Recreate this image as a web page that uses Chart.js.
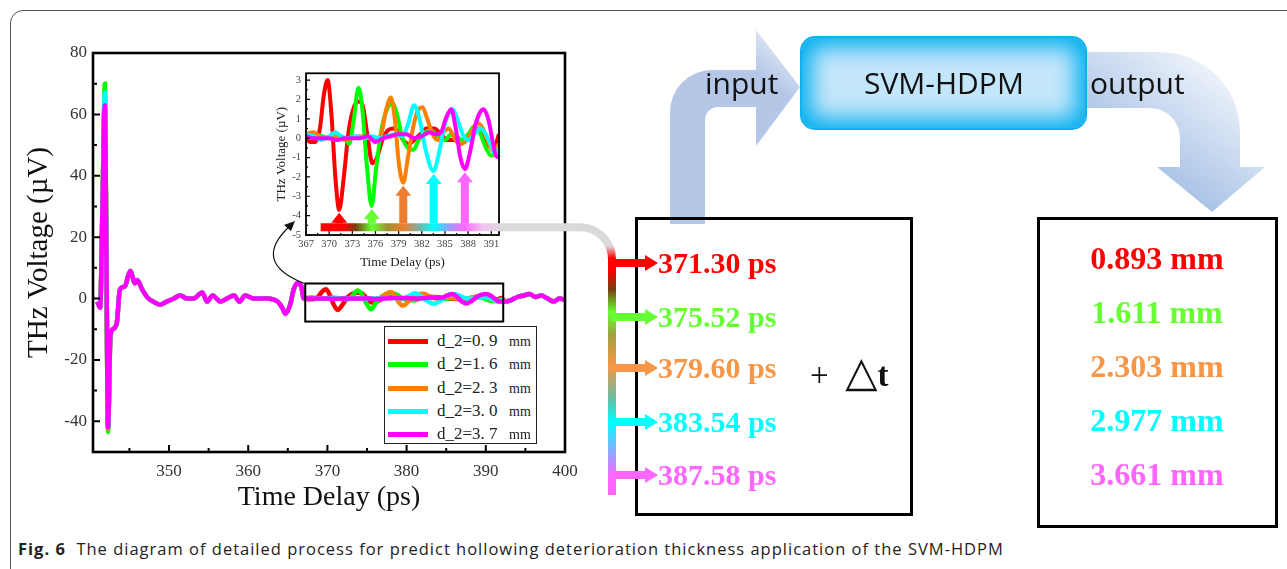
<!DOCTYPE html>
<html>
<head>
<meta charset="utf-8">
<script src="https://cdn.jsdelivr.net/npm/chart.js@4.4.3/dist/chart.umd.min.js"></script>
<style>
  html, body { margin: 0; padding: 0; background: #fff; }
  #page { position: relative; width: 1287px; height: 569px; overflow: hidden; }
  .abs { position: absolute; }
  #frame { left: 10px; top: 10px; width: 1320px; height: 620px; border: 1.3px solid #555; border-radius: 13px; box-sizing: border-box; }
  #mainCv { left: 0; top: 0; }
  #insetCv { left: 262px; top: 62px; background: #fff; }
  #deco { left: 0; top: 0; z-index: 3; pointer-events: none; }
  #legend { left: 384px; top: 326px; width: 153px; height: 118px; border: 1.5px solid #222; background: #fff; box-sizing: border-box; z-index: 2; }
  .lrow { position: absolute; left: 0; height: 20px; width: 150px; }
  .lsw { position: absolute; left: 3px; top: 8px; width: 40px; height: 5px; }
  .ltx { position: absolute; left: 52px; top: 0; font: 17px "Liberation Serif", serif; line-height: 20px; color: #222; white-space: pre; }
  .ltx small { font-size: 14px; padding-left: 3px; }
  #svm { left: 800px; top: 36px; width: 287px; height: 94px; border-radius: 15px; background: #c4e6fa;
         box-shadow: inset 0 0 22px 9px #00aeef; border: 2px solid #10b0ef; box-sizing: border-box; z-index: 4; }
  .dtxt { position: absolute; font-family: "Open Sans", sans-serif; font-size: 30px; line-height: 30px; color: #111; z-index: 5; white-space: nowrap; }
  .val { position: absolute; font: bold 30px "Liberation Serif", serif; line-height: 30px; z-index: 5; white-space: nowrap; }
  #dt { left: 810px; top: 347px; font: 33px "Liberation Serif", serif; line-height: 40px; color: #111; z-index: 5; white-space: nowrap; }
  #dt .tri { font: 42px "DejaVu Sans", sans-serif; }
  #dt b { font-weight: bold; }
  #caption { left: 18px; top: 537px; font: 16.5px "Open Sans", sans-serif; letter-spacing: 1px; color: #222; white-space: nowrap; }
</style>
</head>
<body>
<div id="page">
  <div id="frame" class="abs"></div>
  <canvas id="mainCv" class="abs" width="600" height="520"></canvas>
  <canvas id="insetCv" class="abs" width="245" height="212"></canvas>
  <div id="legend" class="abs"></div>
  <div id="svm" class="abs"></div>
  <div class="dtxt" style="left:864px;top:68px;">SVM-HDPM</div>
  <div class="dtxt" style="left:705px;top:68px;">input</div>
  <div class="dtxt" style="left:1090px;top:68px;">output</div>
  <div id="dt" class="abs">+&nbsp;&nbsp;<span class="tri">△</span><b>t</b></div>
  <canvas id="deco" class="abs" width="1287" height="569"></canvas>
  <div id="caption" class="abs"><b>Fig. 6</b>&nbsp; The diagram of detailed process for predict hollowing deterioration thickness application of the SVM-HDPM</div>
</div>
<script>
// ---- data ----
const seriesLabels = ['d_2=0. 9', 'd_2=1. 6', 'd_2=2. 3', 'd_2=3. 0', 'd_2=3. 7'];
const seriesColors = ['#ff0000', '#00ff00', '#ff8000', '#00ffff', '#ff00ff'];

// main trace before the zoomed window (shared shape, spike differs per series)
const preTime = [340.95, 341.3, 341.6, 341.9, 342.1, 342.3, 342.6, 342.9, 343.4, 343.8, 344.45, 344.8, 345.1, 345.7, 346.0, 346.6, 347.4, 348.0, 348.9, 349.7, 350.6, 351.4, 352.3, 353.1, 354.2, 354.8, 355.5, 356.5, 357.3, 358.2, 358.9, 359.6, 360.7, 361.5, 362.4, 363.7, 364.3, 364.7, 365.3, 365.75, 366.2, 366.7];
const preVolt = [-1, -3, 30, 65, 10, -42, -12, -10, -8, 3, 4, 7, 9, 5, 6, 3, 0, -1, -2, -1, 0, 1, 0, 0, 2, -1, 1, -1, 0, 1, -1, 1, 0, 0, 0, -1, -3, -5, -2, 3, 5, 4];
const spikePeak = [68, 70, 66, 67, 63];
const spikeTrough = [-42, -43.5, -42.5, -42, -42];

// main trace after the zoomed window
const postTime = [392.5, 393.2, 394.0, 394.8, 395.5, 396.3, 397.0, 397.8, 398.6, 399.3, 400];
const postVolt = [-1, -0.5, 0.5, 1, 1.5, 0.5, 1, 0, -1, 0, -0.5];

// zoomed window 367-392 ps
const redTime = [367.0, 367.5, 368.2, 368.8, 369.3, 369.8, 370.3, 370.8, 371.3, 371.9, 372.5, 373.2, 373.9, 374.4, 375.0, 375.6, 376.2, 376.9, 377.6, 378.3, 379.0, 379.6, 380.3, 381.0, 381.8, 382.6, 383.6, 384.5, 385.3, 386.2, 387.0, 387.8, 388.6, 389.3, 390.0, 390.7, 391.3, 392.0];
const redVolt = [0.0, -0.2, -0.2, 0.5, 2.2, 3.0, 1.2, -2.0, -3.7, -2.0, 0.3, 1.6, 1.9, 1.6, 0.0, -1.3, -1.0, -0.1, 0.4, 0.5, 0.3, -0.1, -0.3, -0.1, 0.2, 0.5, 0.5, 0.2, -0.1, -0.1, -0.3, 0.0, 0.4, 0.5, 0.0, -0.4, -0.5, 0.2];
const greenTime = [367.0, 368.0, 369.0, 370.0, 371.0, 372.0, 372.6, 373.2, 373.8, 374.3, 374.9, 375.5, 376.1, 376.8, 377.5, 378.2, 378.8, 379.5, 380.2, 380.9, 381.6, 382.4, 383.2, 384.0, 385.0, 385.8, 386.5, 387.2, 388.0, 388.8, 389.5, 390.3, 391.0, 391.6, 392.0];
const greenVolt = [0.1, 0.2, 0.1, 0.0, -0.1, 0.0, -0.3, 1.0, 2.6, 1.5, -1.5, -3.5, -1.5, 0.5, 1.5, 1.8, 1.2, 0.0, -0.5, -0.6, -0.1, 0.3, 0.4, 0.1, -0.1, 0.2, 0.1, -0.1, 0.2, 0.6, 0.3, -0.5, -0.9, -0.8, -0.4];
const orangeTime = [367.0, 368.0, 369.0, 370.0, 371.0, 372.0, 373.0, 374.0, 375.0, 376.0, 376.8, 377.4, 378.0, 378.5, 379.0, 379.6, 380.2, 380.9, 381.6, 382.1, 382.7, 383.4, 384.1, 384.8, 385.5, 386.2, 386.9, 387.6, 388.4, 389.2, 389.9, 390.6, 391.3, 392.0];
const orangeVolt = [0.2, 0.3, 0.0, 0.0, 0.1, -0.1, 0.0, 0.1, 0.0, -0.1, 0.3, 1.5, 2.1, 1.0, -1.2, -2.3, -1.0, 0.6, 1.5, 1.6, 1.0, 0.2, -0.1, 0.3, 0.5, 0.0, -0.3, -0.2, 0.3, 0.8, 0.5, -0.2, -0.7, -0.3];
const cyanTime = [367.0, 368.0, 369.0, 370.0, 370.8, 371.6, 372.5, 373.5, 374.5, 375.5, 376.5, 377.5, 378.5, 379.5, 380.2, 381.0, 381.7, 382.5, 383.5, 384.2, 384.9, 385.5, 386.0, 386.6, 387.3, 388.0, 388.8, 389.6, 390.3, 391.0, 391.6, 392.0];
const cyanVolt = [0.2, 0.1, -0.1, 0.1, 0.3, 0.1, 0.0, 0.1, 0.0, 0.1, 0.0, 0.1, 0.2, 0.1, 0.7, 1.7, 1.0, -0.6, -1.7, -0.8, 0.6, 1.3, 1.5, 1.0, 0.2, -0.1, 0.2, 0.5, 0.2, -0.4, -0.9, -0.5];
const magentaTime = [367.0, 368.0, 369.0, 370.0, 371.0, 372.0, 373.0, 374.0, 375.0, 376.0, 377.0, 378.0, 379.0, 380.0, 381.0, 382.0, 383.0, 383.8, 384.5, 385.1, 385.8, 386.4, 387.0, 387.6, 388.2, 388.9, 389.5, 390.0, 390.6, 391.2, 391.6, 392.0];
const magentaVolt = [0.1, 0.0, 0.0, 0.0, -0.1, 0.0, 0.0, 0.0, 0.1, -0.2, 0.0, 0.1, 0.2, 0.2, 0.0, 0.1, 0.3, 0.2, 0.3, 1.0, 1.5, 0.5, -1.0, -1.6, -0.8, 0.6, 1.3, 1.5, 1.0, -0.2, -0.9, -1.0];

const insetTimes = [redTime, greenTime, orangeTime, cyanTime, magentaTime];
const insetVolts = [redVolt, greenVolt, orangeVolt, cyanVolt, magentaVolt];

// detected trough times -> predicted thickness
const peakTimes = [371.30, 375.52, 379.60, 383.54, 387.58];
const troughVolts = [-3.7, -3.5, -2.3, -1.7, -1.6];
const thicknessMm = [0.893, 1.611, 2.303, 2.977, 3.661];
const markColors = ['#ff0000', '#66ff33', '#f79646', '#00ffff', '#ff66ff'];
const insetArrowColors = ['#ff0000', '#66ff33', '#ed7d31', '#00ffff', '#ff66ff'];

// tick labels
const mainXTicks = [350, 360, 370, 380, 390, 400];
const mainXMinor = [345, 355, 365, 375, 385, 395];
const mainYTicks = [-40, -20, 0, 20, 40, 60, 80];
const mainYMinor = [-50, -30, -10, 10, 30, 50, 70];
const insetXTicks = [367, 370, 373, 376, 379, 382, 385, 388, 391];
const insetXMinor = [368.5, 371.5, 374.5, 377.5, 380.5, 383.5, 386.5, 389.5];
const insetYTicks = [-5, -4, -3, -2, -1, 0, 1, 2, 3];
const insetYMinor = [-4.5, -3.5, -2.5, -1.5, -0.5, 0.5, 1.5, 2.5];

// ---- charts ----
Chart.defaults.font.family = '"Liberation Serif", serif';

function pts(ts, vs) { return ts.map((t, j) => ({ x: t, y: vs[j] })); }

const mainSets = [];
const insetSets = [];
for (let i = seriesLabels.length - 1; i >= 0; i--) {   // magenta drawn on top
  const pre = preVolt.map((v, j) => j === 3 ? spikePeak[i] : (j === 5 ? spikeTrough[i] : v));
  mainSets.push({
    label: seriesLabels[i],
    data: pts(preTime, pre).concat(pts(insetTimes[i], insetVolts[i]), pts(postTime, postVolt)),
    borderColor: seriesColors[i], borderWidth: 4.5, pointRadius: 0,
    cubicInterpolationMode: 'monotone'
  });
  insetSets.push({
    label: seriesLabels[i],
    data: pts(insetTimes[i], insetVolts[i]),
    borderColor: seriesColors[i], borderWidth: 4, pointRadius: 0,
    cubicInterpolationMode: 'monotone'
  });
}

function tickPlugin(id, o) {
  return {
    id,
    afterDatasetsDraw(chart) {
      const { ctx, chartArea: a, scales: { x, y } } = chart;
      ctx.save();
      ctx.strokeStyle = '#000';
      ctx.lineWidth = o.frame;
      ctx.strokeRect(a.left, a.top, a.right - a.left, a.bottom - a.top);
      ctx.lineWidth = o.tickW;
      ctx.beginPath();
      o.xMaj.forEach(v => { const p = x.getPixelForValue(v); ctx.moveTo(p, a.bottom); ctx.lineTo(p, a.bottom - o.maj); });
      o.xMin.forEach(v => { const p = x.getPixelForValue(v); ctx.moveTo(p, a.bottom); ctx.lineTo(p, a.bottom - o.min); });
      o.yMaj.forEach(v => { const p = y.getPixelForValue(v); ctx.moveTo(a.left, p); ctx.lineTo(a.left + o.maj, p); });
      o.yMin.forEach(v => { const p = y.getPixelForValue(v); ctx.moveTo(a.left, p); ctx.lineTo(a.left + o.min, p); });
      ctx.stroke();
      if (o.box) {
        const x0 = x.getPixelForValue(o.box[0]), x1 = x.getPixelForValue(o.box[1]);
        const y0 = y.getPixelForValue(o.box[2]), y1 = y.getPixelForValue(o.box[3]);
        ctx.lineWidth = 2;
        ctx.strokeRect(x0, y0, x1 - x0, y1 - y0);
      }
      ctx.restore();
    }
  };
}

const mainChart = new Chart(document.getElementById('mainCv'), {
  type: 'line',
  data: { datasets: mainSets },
  options: {
    responsive: false, animation: false,
    layout: { padding: { left: 0, top: 53, right: 35, bottom: 0 } },
    plugins: { legend: { display: false }, tooltip: { enabled: false } },
    scales: {
      x: {
        type: 'linear', min: 340.4, max: 400,
        afterBuildTicks: s => { s.ticks = mainXTicks.map(v => ({ value: v })); },
        afterFit: s => { s.height = 68; },
        grid: { display: false, drawTicks: false }, border: { display: false },
        ticks: { padding: 9, color: '#333', font: { size: 17 }, maxRotation: 0, autoSkip: false },
        title: { display: true, text: 'Time Delay (ps)', color: '#111', font: { size: 28 }, padding: { top: 6, bottom: 6 } }
      },
      y: {
        min: -50, max: 80,
        afterBuildTicks: s => { s.ticks = mainYTicks.map(v => ({ value: v })); },
        afterFit: s => { s.width = 93; },
        grid: { display: false, drawTicks: false }, border: { display: false },
        ticks: { padding: 6, color: '#333', font: { size: 17 }, autoSkip: false },
        title: { display: true, text: 'THz Voltage (µV)', color: '#111', font: { size: 29 }, padding: { top: 22, bottom: 22 } }
      }
    }
  },
  plugins: [tickPlugin('mainTicks', { frame: 2.6, tickW: 2, maj: 7, min: 4,
    xMaj: mainXTicks, xMin: mainXMinor, yMaj: mainYTicks, yMin: mainYMinor, box: [367.2, 392.2, 4.9, -7.5] })]
});

const insetChart = new Chart(document.getElementById('insetCv'), {
  type: 'line',
  data: { datasets: insetSets },
  options: {
    responsive: false, animation: false,
    layout: { padding: { left: 0, top: 10, right: 8, bottom: 0 } },
    plugins: { legend: { display: false }, tooltip: { enabled: false } },
    scales: {
      x: {
        type: 'linear', min: 367, max: 392,
        afterBuildTicks: s => { s.ticks = insetXTicks.map(v => ({ value: v })); },
        afterFit: s => { s.height = 39; },
        grid: { display: false, drawTicks: false }, border: { display: false },
        ticks: { padding: 3, color: '#444', font: { size: 10.5 }, maxRotation: 0, autoSkip: false },
        title: { display: true, text: 'Time Delay (ps)', color: '#222', font: { size: 13 }, padding: { top: 4, bottom: 4 } }
      },
      y: {
        min: -5, max: 3.35,
        afterBuildTicks: s => { s.ticks = insetYTicks.map(v => ({ value: v })); },
        afterFit: s => { s.width = 44; },
        grid: { display: false, drawTicks: false }, border: { display: false },
        ticks: { padding: 5, color: '#444', font: { size: 10.5 }, autoSkip: false },
        title: { display: true, text: 'THz Voltage (µV)', color: '#222', font: { size: 13 }, padding: { top: 12, bottom: 12 } }
      }
    }
  },
  plugins: [tickPlugin('insetTicks', { frame: 1.8, tickW: 1.2, maj: 4, min: 2,
    xMaj: insetXTicks, xMin: insetXMinor, yMaj: insetYTicks, yMin: insetYMinor })]
});

// ---- legend ----
const legend = document.getElementById('legend');
seriesLabels.forEach((lab, i) => {
  const row = document.createElement('div');
  row.className = 'lrow';
  row.style.top = (4 + i * 23.3) + 'px';
  row.innerHTML = `<span class="lsw" style="background:${seriesColors[i]}"></span><span class="ltx">${lab}  <small>mm</small></span>`;
  legend.appendChild(row);
});

// ---- value texts ----
const page = document.getElementById('page');
const leftRowY = [263, 317, 368, 422, 475];
const rightRowY = [258, 312, 366, 420, 474];
peakTimes.forEach((t, i) => {
  const d = document.createElement('div');
  d.className = 'val';
  d.style.left = '658px';
  d.style.top = (leftRowY[i] - 15) + 'px';
  d.style.color = markColors[i];
  d.textContent = t.toFixed(2) + ' ps';
  page.appendChild(d);
});
thicknessMm.forEach((v, i) => {
  const d = document.createElement('div');
  d.className = 'val';
  d.style.left = '1037px';
  d.style.width = '240px';
  d.style.textAlign = 'center';
  d.style.fontSize = '32px';
  d.style.lineHeight = '32px';
  d.style.top = (rightRowY[i] - 16) + 'px';
  d.style.color = markColors[i];
  d.textContent = v.toFixed(3) + ' mm';
  page.appendChild(d);
});

// ---- diagram decorations ----
function drawDeco() {
  const g = document.getElementById('deco').getContext('2d');
  const ix = v => 262 + insetChart.scales.x.getPixelForValue(v);
  const iy = v => 62 + insetChart.scales.y.getPixelForValue(v);

  // input arrow
  let grad = g.createLinearGradient(800, 28, 762, 78);
  grad.addColorStop(0, '#f6f9fd');
  grad.addColorStop(1, '#b4c7e7');
  g.fillStyle = grad;
  g.beginPath();
  g.moveTo(670, 224);
  g.lineTo(670, 112);
  g.arc(712, 112, 42, Math.PI, 1.5 * Math.PI);
  g.lineTo(756, 70);
  g.lineTo(756, 30);
  g.lineTo(800, 87);
  g.lineTo(756, 146);
  g.lineTo(756, 107);
  g.lineTo(718, 107);
  g.arc(718, 120, 13, 1.5 * Math.PI, Math.PI, true);
  g.lineTo(705, 224);
  g.closePath();
  g.fill();

  // output arrow
  grad = g.createLinearGradient(1120, 205, 1225, 60);
  grad.addColorStop(0, '#8fb0de');
  grad.addColorStop(1, '#f4f8fd');
  g.fillStyle = grad;
  g.beginPath();
  g.moveTo(1080, 52);
  g.lineTo(1160, 52);
  g.arc(1160, 132, 80, 1.5 * Math.PI, 2 * Math.PI);
  g.lineTo(1240, 167);
  g.lineTo(1265, 167);
  g.lineTo(1212, 212);
  g.lineTo(1157, 167);
  g.lineTo(1180, 167);
  g.lineTo(1180, 138);
  g.arc(1150, 138, 30, 0, 1.5 * Math.PI, true);
  g.lineTo(1080, 108);
  g.closePath();
  g.fill();

  // boxes
  g.strokeStyle = '#000';
  g.lineWidth = 3;
  g.strokeRect(636.5, 218.5, 275, 296);
  g.strokeRect(1038.5, 218.5, 238, 308);

  // gradient connector from the inset to the time list
  const yb = iy(-4.6);
  const ax = peakTimes.map(ix);
  const x0 = ix(368.9);
  g.lineWidth = 8;
  g.lineCap = 'butt';
  grad = g.createLinearGradient(x0, 0, 582, 0);
  const hs = (x, c) => grad.addColorStop(Math.min(1, Math.max(0, (x - x0) / (582 - x0))), c);
  hs(x0, '#ff0000'); hs(ax[0] + 4, '#ff0000'); hs((ax[0] + ax[1]) / 2, '#7a3b10');
  hs(ax[1], '#66ff33'); hs((ax[1] + ax[2]) / 2, '#a09030'); hs(ax[2], '#ed7d31');
  hs((ax[2] + ax[3]) / 2, '#80b0a0'); hs(ax[3], '#00ffff'); hs((ax[3] + ax[4]) / 2, '#9a9cff');
  hs(ax[4], '#ff66ff'); hs(ax[4] + 18, '#f0c4f0'); hs(ax[4] + 38, '#d9d9d9'); hs(582, '#d9d9d9');
  g.strokeStyle = grad;
  g.beginPath();
  g.moveTo(x0, yb);
  g.lineTo(582, yb);
  g.stroke();

  grad = g.createLinearGradient(0, yb - 4, 0, 495);
  const vs = (y, c) => grad.addColorStop(Math.min(1, Math.max(0, (y - yb + 4) / (495 - yb + 4))), c);
  vs(yb - 4, '#d9d9d9'); vs(246, '#dcdcdc'); vs(258, '#ff0000'); vs(270, '#ff0000');
  vs(289, '#7a3b10'); vs(312, '#66ff33'); vs(335, '#a0a040'); vs(365, '#f79646');
  vs(400, '#60c0a8'); vs(422, '#00ffff'); vs(452, '#8fa8ff'); vs(478, '#ff66ff'); vs(495, '#ff66ff');
  g.strokeStyle = grad;
  g.beginPath();
  g.moveTo(580, yb);
  g.arcTo(612, yb, 612, yb + 32, 32);
  g.lineTo(612, 495);
  g.stroke();

  // horizontal arrows into the time list
  leftRowY.forEach((y, i) => {
    g.fillStyle = markColors[i];
    g.fillRect(612, y - 4, 36, 8);
    g.beginPath();
    g.moveTo(645, y - 8);
    g.lineTo(658, y);
    g.lineTo(645, y + 8);
    g.closePath();
    g.fill();
  });

  // vertical arrows in the inset pointing at each trough
  peakTimes.forEach((t, i) => {
    const x = ix(t), tip = iy(troughVolts[i]) + 3;
    g.fillStyle = insetArrowColors[i];
    g.fillRect(x - 4, tip + 9, 8, yb - 4 - (tip + 9));
    g.beginPath();
    g.moveTo(x - 8, tip + 10);
    g.lineTo(x, tip);
    g.lineTo(x + 8, tip + 10);
    g.closePath();
    g.fill();
  });

  // curved pointer from the zoom box to the inset
  const bx = mainChart.scales.x.getPixelForValue(367.2);
  const by = mainChart.scales.y.getPixelForValue(4.9);
  g.strokeStyle = '#111';
  g.lineWidth = 1.2;
  g.beginPath();
  g.moveTo(bx - 1, by);
  g.quadraticCurveTo(250, 262, 291, 225);
  g.stroke();
  g.fillStyle = '#111';
  g.beginPath();
  g.moveTo(295, 221);
  g.lineTo(284, 225);
  g.lineTo(291, 231);
  g.closePath();
  g.fill();
}
drawDeco();
</script>
</body>
</html>
